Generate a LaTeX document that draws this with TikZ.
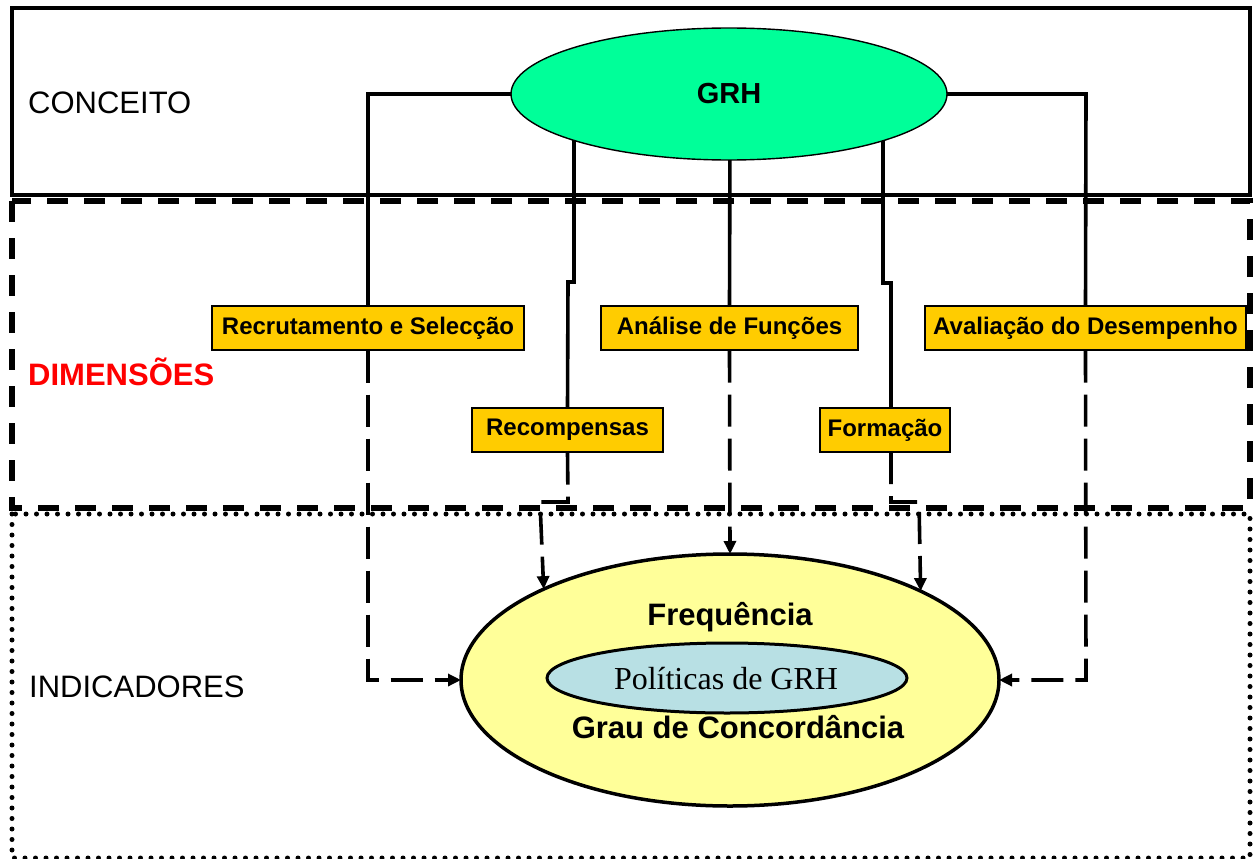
\documentclass[tikz,border=0pt]{standalone}
\usepackage{fontspec}
\setmainfont{Liberation Sans}
\newfontfamily\serifrm{Liberation Serif}
\usetikzlibrary{shapes.geometric,arrows.meta,backgrounds}
\definecolor{grhgreen}{RGB}{0,255,153}
\definecolor{boxyellow}{RGB}{255,204,0}
\definecolor{ellyellow}{RGB}{255,255,153}
\definecolor{polblue}{RGB}{184,224,228}
\tikzset{
  frameline/.style={line width=4.5pt},
  conn/.style={line width=3.6pt},
  dconn/.style={line width=3.6pt, dash pattern=on 32pt off 12pt},
  arr/.style={-{Triangle[length=13pt,width=12pt]}},
  dimbox/.style={draw=black, line width=1.4pt, fill=boxyellow, inner sep=0pt,
    minimum height=44pt, font=\bfseries\fontsize{24}{28}\selectfont},
  sidelabel/.style={anchor=base west, inner sep=0pt, font=\fontsize{31}{36}\selectfont},
  bigtext/.style={anchor=base, inner sep=0pt, font=\bfseries\fontsize{31}{36}\selectfont},
}
\begin{document}
\begin{tikzpicture}[x=1pt,y=-1pt]
\useasboundingbox (0,0) rectangle (1253,859);
% frames
\draw[frameline] (12,8) rectangle (1250,195);
\draw[line width=5.5pt, dash pattern=on 21pt off 16pt] (12,201) rectangle (1250,508);
\draw[line width=5pt, line cap=round, dash pattern=on 0pt off 10.5pt] (12,514) rectangle (1250,858);
% side labels
\node[sidelabel] (conc) at (28,113) {CONCEITO};
\node[sidelabel, text=red, font=\bfseries\fontsize{31}{36}\selectfont] (dim) at (28,385) {DIMENSÕES};
\node[sidelabel] (ind) at (29,697) {INDICADORES};
% main nodes
\node[ellipse, draw=black, line width=1.4pt, fill=grhgreen, inner sep=0pt, outer sep=0pt,
  minimum width=436pt, minimum height=132pt,
  font=\bfseries\fontsize{29}{34}\selectfont] (grh) at (729,94) {GRH};
\node[dimbox, minimum width=312pt] (rec) at (368,328) {Recrutamento e Selecção};
\node[dimbox, minimum width=257pt] (ana) at (729.5,328) {Análise de Funções};
\node[dimbox, minimum width=321pt] (ava) at (1085.5,328) {Avaliação do Desempenho};
\node[dimbox, minimum width=191pt] (recp) at (567.5,430) {Recompensas};
\node[dimbox, minimum width=130pt] (form) at (885,430) {Formação};
\node[ellipse, draw=black, line width=3.5pt, fill=ellyellow, inner sep=0pt, outer sep=0pt,
  minimum width=538pt, minimum height=252pt] (yel) at (730,680) {};
\node[ellipse, draw=black, line width=3pt, fill=polblue, inner sep=0pt, outer sep=0pt,
  minimum width=360pt, minimum height=70pt] (pol) at (727,678) {};
\node[anchor=base, inner sep=0pt, font=\serifrm\fontsize{32}{38}\selectfont] (polt) at (726,689) {Políticas de GRH};
\node[bigtext] (freq) at (730,625) {Frequência};
\node[bigtext] (grau) at (738,738) {Grau de Concordância};
% bend coordinates
\coordinate (g1) at (368,94);
\coordinate (g5) at (1086,94);
\coordinate (r0) at (574,120);
\coordinate (r1) at (574,282);
\coordinate (r2) at (568,282);
\coordinate (a0) at (730,120);
\coordinate (f0) at (883,120);
\coordinate (f1) at (883,283);
\coordinate (f2) at (891,283);
\coordinate (f3) at (891,408);
\coordinate (f4) at (891,452);
\coordinate (f5) at (891,502);
\coordinate (f6) at (919,502);
\coordinate (r3) at (568,502);
\coordinate (r4) at (540,502);
\coordinate (c1) at (368,680);
\coordinate (c5) at (1086,680);
\begin{scope}[on background layer]
\draw[conn] (grh.west) -- (g1) -- (rec.north);
\draw[conn] (r0) -- (r1) -- (r2) -- (recp.north);
\draw[conn] (a0) -- (ana.north);
\draw[conn] (f0) -- (f1) -- (f2) -- (f3);
\draw[conn] (grh.east) -- (g5) -- (ava.north);
\end{scope}
% dashed connectors
\draw[dconn, arr] (rec.south) -- (c1) -- (yel.west);
\draw[dconn, arr] (recp.south) -- (r3) -- (r4) -- (yel.154.6);
\draw[dconn, arr] (ana.south) -- (yel.north);
\draw[dconn, arr] (f4) -- (f5) -- (f6) -- (yel.25.4);
\draw[dconn, arr] (ava.south) -- (c5) -- (yel.east);
\end{tikzpicture}
\end{document}
